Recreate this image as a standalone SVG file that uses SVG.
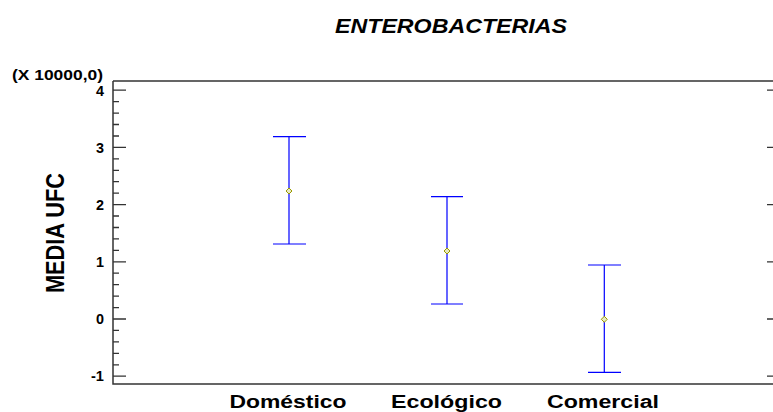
<svg xmlns="http://www.w3.org/2000/svg" width="773" height="412" viewBox="0 0 773 412">
<style>
.t{font-family:"Liberation Sans",Arial,sans-serif;font-weight:bold;fill:#000}
.ax{stroke:#333;stroke-width:1.5;fill:none}
.tk{stroke:#333;stroke-width:1.3}
.bar{stroke:#0000ff;stroke-width:1.2;fill:none}
.m{stroke:#999900;stroke-width:1;fill:#e8e8c0}
</style>
<rect width="773" height="412" fill="#fff"/>
<text class="t" x="451" y="33" font-size="21" font-style="italic" text-anchor="middle" textLength="232" lengthAdjust="spacingAndGlyphs">ENTEROBACTERIAS</text>
<text class="t" x="12" y="79.5" font-size="14" textLength="91" lengthAdjust="spacingAndGlyphs">(X 10000,0)</text>
<text class="t" transform="translate(64,233) rotate(-90)" x="0" y="0" font-size="25" text-anchor="middle" textLength="120" lengthAdjust="spacingAndGlyphs">MEDIA UFC</text>
<g id="axes">
<path class="ax" d="M113,81 H773 M113,81 V384 H773"/>
<g class="tk">
<path d="M113,90.2H126 M113,147.4H126 M113,204.6H126 M113,261.8H126 M113,319H126 M113,376.2H126"/>
<path d="M113,101.6H119 M113,113.1H119 M113,124.5H119 M113,136H119 M113,158.8H119 M113,170.3H119 M113,181.7H119 M113,193.2H119 M113,216H119 M113,227.5H119 M113,238.9H119 M113,250.4H119 M113,273.2H119 M113,284.7H119 M113,296.1H119 M113,307.6H119 M113,330.4H119 M113,341.9H119 M113,353.3H119 M113,364.8H119"/>
<path d="M767,90.2H773 M767,147.4H773 M767,204.6H773 M767,261.8H773 M767,319H773 M767,376.2H773"/>
</g>
<g class="t" font-size="14" text-anchor="end">
<text x="104" y="95.5" textLength="8" lengthAdjust="spacingAndGlyphs">4</text>
<text x="104" y="152.5" textLength="8" lengthAdjust="spacingAndGlyphs">3</text>
<text x="104" y="209.5" textLength="8" lengthAdjust="spacingAndGlyphs">2</text>
<text x="104" y="266.5" textLength="8" lengthAdjust="spacingAndGlyphs">1</text>
<text x="104" y="324" textLength="8" lengthAdjust="spacingAndGlyphs">0</text>
<text x="104" y="381" textLength="13" lengthAdjust="spacingAndGlyphs">-1</text>
</g>
</g>
<g id="domestico">
<path class="bar" d="M273,136.7H306 M289,136.7V244 M273,244H306"/>
<path class="m" d="M289,188 L292,191 L289,194 L286,191 Z"/>
<text class="t" x="288" y="408" font-size="18" text-anchor="middle" textLength="117" lengthAdjust="spacingAndGlyphs">Doméstico</text>
</g>
<g id="ecologico">
<path class="bar" d="M431,196.7H463 M447,196.7V304 M431,304H463"/>
<path class="m" d="M447,248 L450,251 L447,254 L444,251 Z"/>
<text class="t" x="446.5" y="408" font-size="18" text-anchor="middle" textLength="111" lengthAdjust="spacingAndGlyphs">Ecológico</text>
</g>
<g id="comercial">
<path class="bar" d="M588,265H621 M604.3,265V372.3 M588,372.3H621"/>
<path class="m" d="M604.3,316.3 L607.3,319.3 L604.3,322.3 L601.3,319.3 Z"/>
<text class="t" x="603" y="408" font-size="18" text-anchor="middle" textLength="112" lengthAdjust="spacingAndGlyphs">Comercial</text>
</g>
</svg>
